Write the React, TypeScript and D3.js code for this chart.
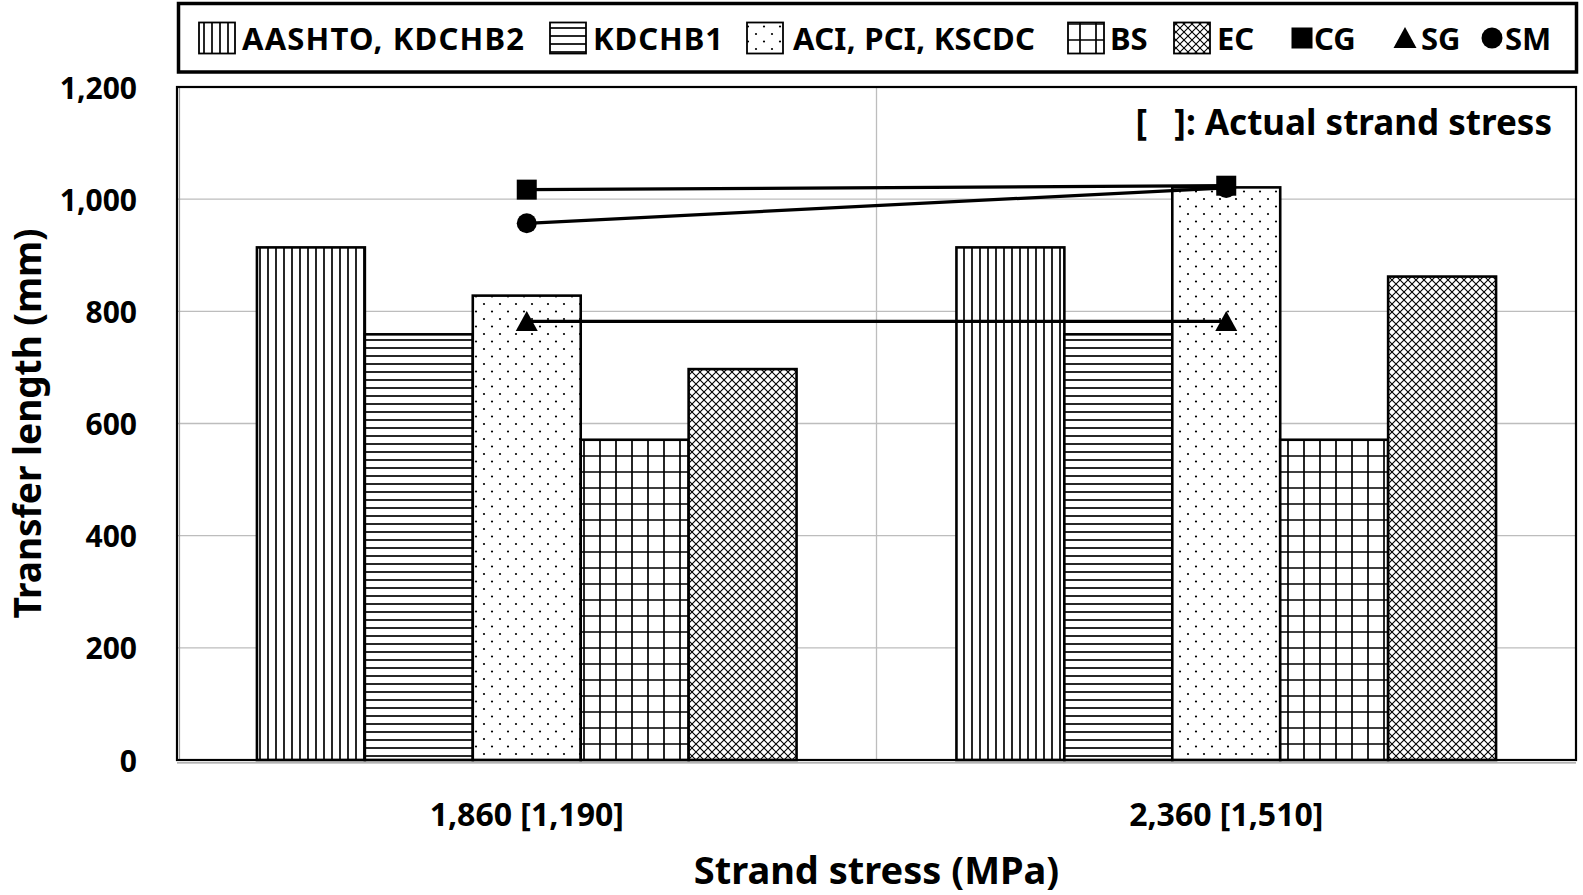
import React from "react";
import * as d3 from "d3";

const groups = ["1,860 [1,190]", "2,360 [1,510]"];
const barSeries = ["AASHTO, KDCHB2", "KDCHB1", "ACI, PCI, KSCDC", "BS", "EC"];
const aashtoValues = [914, 914];
const kdchb1Values = [759, 759];
const aciValues = [828, 1021];
const bsValues = [571, 571];
const ecValues = [697, 862];
const lineSeries = ["CG", "SG", "SM"];
const cgValues = [1017, 1024];
const sgValues = [782, 782];
const smValues = [957, 1020];
const yTicks = [0, 200, 400, 600, 800, 1000, 1200];

const barValues = [aashtoValues, kdchb1Values, aciValues, bsValues, ecValues];
const lineValues = [cgValues, sgValues, smValues];
const patternIds = ["pVert", "pHorz", "pDots", "pGrid", "pCross"];

const W = 1583, H = 895;
const plot = { left: 177, right: 1576, top: 87, bottom: 760 };
const FONT = "'Noto Sans', 'Open Sans', sans-serif";

function Marker({ kind, x, y, s }: { kind: string; x: number; y: number; s: number }) {
  if (kind === "CG") return <rect x={x - s / 2} y={y - s / 2} width={s} height={s} fill="#000" />;
  if (kind === "SG") {
    const h = s * 0.95;
    return <path d={`M${x},${y - h / 2 - 1}L${x + s / 2 + 1},${y + h / 2}L${x - s / 2 - 1},${y + h / 2}Z`} fill="#000" />;
  }
  return <circle cx={x} cy={y} r={s / 2} fill="#000" />;
}

export default function App() {
  const x0 = d3.scaleBand<string>().domain(groups).range([plot.left, plot.right]).paddingInner(160 / 700).paddingOuter(80 / 700);
  const x1 = d3.scaleBand<string>().domain(barSeries).range([0, x0.bandwidth()]).padding(0);
  const y = d3.scaleLinear().domain([0, 1200]).range([plot.bottom, plot.top]);
  const fmt = d3.format(",");
  const cx = (g: string) => (x0(g) as number) + x0.bandwidth() / 2;
  const line = d3.line<number>().x((_, i) => cx(groups[i])).y((v) => y(v));

  const legendSwatches = [199, 550, 747, 1068, 1174];
  const legendTextX = [242, 593, 793, 1110, 1217];
  const legendTextW: (number | undefined)[] = [282, 130, 242, undefined, undefined];
  const legendMarkerX = [1302, 1405, 1492];
  const legendMarkerTextX = [1314, 1421, 1505];
  const ly = 38;

  return (
    <svg width={W} height={H} style={{ position: "absolute", left: 0, top: 0, background: "#fff" }} fontFamily={FONT}>
      <defs>
        <pattern id="pVert" patternUnits="userSpaceOnUse" width={8} height={8}>
          <line x1={4} x2={4} y1={0} y2={8} stroke="#000" strokeWidth={1.7} />
        </pattern>
        <pattern id="pHorz" patternUnits="userSpaceOnUse" width={8} height={8}>
          <line x1={0} x2={8} y1={4} y2={4} stroke="#000" strokeWidth={1.7} />
        </pattern>
        <pattern id="pDots" patternUnits="userSpaceOnUse" width={16} height={15}>
          <circle cx={4} cy={4} r={1.1} fill="#000" />
          <circle cx={12} cy={11.5} r={1.1} fill="#000" />
        </pattern>
        <pattern id="pGrid" patternUnits="userSpaceOnUse" width={16} height={16}>
          <path d="M0,8H16M8,0V16" stroke="#000" strokeWidth={1.7} />
        </pattern>
        <pattern id="pCross" patternUnits="userSpaceOnUse" width={8} height={8}>
          <path d="M0,0L8,8M8,0L0,8" stroke="#000" strokeWidth={1.1} />
        </pattern>
      </defs>

      {/* Legend */}
      <rect x={178.5} y={3.5} width={1398} height={68.5} fill="#fff" stroke="#000" strokeWidth={3.5} />
      {barSeries.map((s, i) => (
        <g key={s}>
          <rect x={legendSwatches[i]} y={ly - 15.5} width={36} height={31} fill="#fff" />
          <rect x={legendSwatches[i]} y={ly - 15.5} width={36} height={31} fill={`url(#${patternIds[i]})`} stroke="#000" strokeWidth={1.8} />
          <text x={legendTextX[i]} y={ly} dominantBaseline="central" fontSize={31} fontWeight="bold"
            {...(legendTextW[i] ? { textLength: legendTextW[i], lengthAdjust: "spacing" } : {})}>{s}</text>
        </g>
      ))}
      {lineSeries.map((s, i) => (
        <g key={s}>
          <Marker kind={s} x={legendMarkerX[i]} y={ly} s={21} />
          <text x={legendMarkerTextX[i]} y={ly} dominantBaseline="central" fontSize={31} fontWeight="bold">{s}</text>
        </g>
      ))}

      {/* Gridlines */}
      {yTicks.filter((t) => t > 0 && t < 1200).map((t) => (
        <line key={t} x1={plot.left} x2={plot.right} y1={y(t)} y2={y(t)} stroke="#bdbdbd" strokeWidth={1.3} />
      ))}
      <line x1={(plot.left + plot.right) / 2} x2={(plot.left + plot.right) / 2} y1={plot.top} y2={plot.bottom} stroke="#bdbdbd" strokeWidth={1.3} />

      {/* Bars */}
      {groups.map((g, gi) => (
        <g key={g}>
          {barSeries.map((s, si) => {
            const bx = (x0(g) as number) + (x1(s) as number);
            const by = y(barValues[si][gi]);
            const bh = y(0) - by;
            return (
              <g key={s}>
                <rect x={bx} y={by} width={x1.bandwidth()} height={bh} fill="#fff" />
                <rect x={bx} y={by} width={x1.bandwidth()} height={bh} fill={`url(#${patternIds[si]})`} stroke="#000" strokeWidth={2.6} />
              </g>
            );
          })}
        </g>
      ))}

      {/* Lines */}
      {lineSeries.map((s, i) => (
        <path key={s} d={line(lineValues[i]) as string} fill="none" stroke="#000" strokeWidth={3.3} />
      ))}
      {lineSeries.map((s, i) => (
        <g key={s}>
          {lineValues[i].map((v, gi) => (
            <Marker key={gi} kind={s} x={cx(groups[gi])} y={y(v)} s={20} />
          ))}
        </g>
      ))}

      {/* Plot border */}
      <line x1={plot.left + 2.5} x2={plot.left + 2.5} y1={plot.top} y2={plot.bottom} stroke="#9a9a9a" strokeWidth={1.2} />
      <line x1={plot.left} x2={plot.right} y1={plot.bottom + 2.8} y2={plot.bottom + 2.8} stroke="#9a9a9a" strokeWidth={1.2} />
      <rect x={plot.left} y={plot.top} width={plot.right - plot.left} height={plot.bottom - plot.top} fill="none" stroke="#000" strokeWidth={2.2} />

      {/* Y ticks */}
      {yTicks.map((t) => (
        <text key={t} x={137} y={y(t)} textAnchor="end" dominantBaseline="central" fontSize={30} fontWeight="bold">{fmt(t)}</text>
      ))}
      {/* X ticks */}
      {groups.map((g) => (
        <text key={g} x={cx(g)} y={813} textAnchor="middle" dominantBaseline="central" fontSize={32} fontWeight="bold">{g}</text>
      ))}

      {/* Axis titles */}
      <text transform={`translate(26, ${(plot.top + plot.bottom) / 2}) rotate(-90)`} textAnchor="middle" dominantBaseline="central" fontSize={37} fontWeight="bold">Transfer length (mm)</text>
      <text x={(plot.left + plot.right) / 2} y={869} textAnchor="middle" dominantBaseline="central" fontSize={38} fontWeight="bold">Strand stress (MPa)</text>

      {/* Annotation */}
      <text x={1552} y={121} textAnchor="end" dominantBaseline="central" fontSize={35} fontWeight="bold" style={{ whiteSpace: "pre" }}>{"[   ]: Actual strand stress"}</text>
    </svg>
  );
}
